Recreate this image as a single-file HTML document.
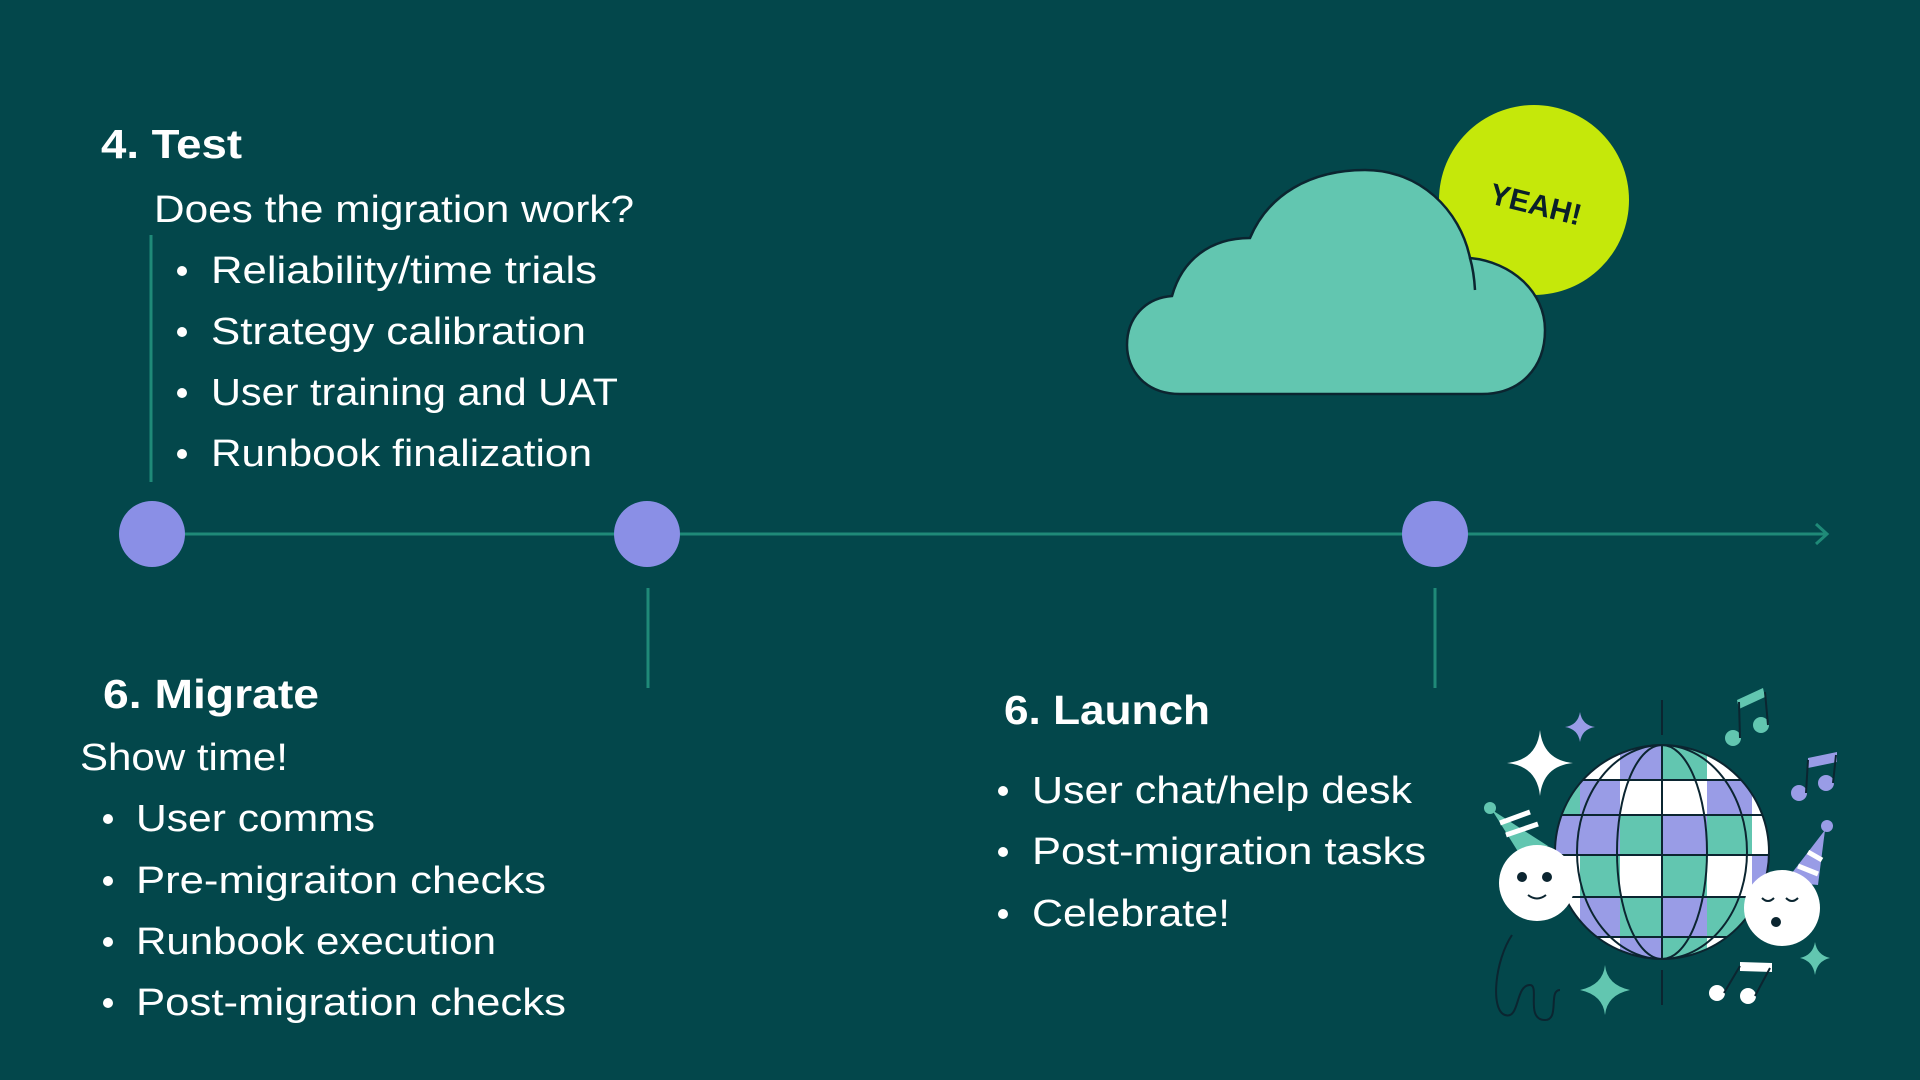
<!DOCTYPE html>
<html><head><meta charset="utf-8"><style>
html,body{margin:0;padding:0;background:#03474b;}
svg{display:block}
text{font-family:"Liberation Sans",sans-serif;fill:#fff}
</style></head><body>
<svg width="1920" height="1080" viewBox="0 0 1920 1080" xmlns="http://www.w3.org/2000/svg">
<rect width="1920" height="1080" fill="#03474b"/>
<!-- Test section -->
<text x="101" y="158" font-size="41" font-weight="bold" textLength="141" lengthAdjust="spacingAndGlyphs">4. Test</text>
<text x="154" y="222" font-size="38" textLength="480" lengthAdjust="spacingAndGlyphs">Does the migration work?</text>
<line x1="151" y1="235" x2="151" y2="482" stroke="#1f8a78" stroke-width="3"/>
<g font-size="38">
<circle cx="182" cy="271" r="5" fill="#fff"/><text x="211" y="283" textLength="386" lengthAdjust="spacingAndGlyphs">Reliability/time trials</text>
<circle cx="182" cy="332" r="5" fill="#fff"/><text x="211" y="344" textLength="375" lengthAdjust="spacingAndGlyphs">Strategy calibration</text>
<circle cx="182" cy="393" r="5" fill="#fff"/><text x="211" y="405" textLength="407" lengthAdjust="spacingAndGlyphs">User training and UAT</text>
<circle cx="182" cy="454" r="5" fill="#fff"/><text x="211" y="466" textLength="381" lengthAdjust="spacingAndGlyphs">Runbook finalization</text>
</g>
<!-- timeline -->
<line x1="152" y1="534" x2="1826" y2="534" stroke="#1f8a78" stroke-width="3"/>
<polyline points="1816,524 1827,534 1816,544" fill="none" stroke="#1f8a78" stroke-width="3"/>
<line x1="648" y1="588" x2="648" y2="688" stroke="#1f8a78" stroke-width="3"/>
<line x1="1435" y1="588" x2="1435" y2="688" stroke="#1f8a78" stroke-width="3"/>
<circle cx="152" cy="534" r="33" fill="#8a8fe6"/>
<circle cx="647" cy="534" r="33" fill="#8a8fe6"/>
<circle cx="1435" cy="534" r="33" fill="#8a8fe6"/>
<!-- Migrate -->
<text x="103" y="708" font-size="41" font-weight="bold" textLength="216" lengthAdjust="spacingAndGlyphs">6. Migrate</text>
<text x="80" y="770" font-size="38" textLength="208" lengthAdjust="spacingAndGlyphs">Show time!</text>
<g font-size="38">
<circle cx="108" cy="819" r="5" fill="#fff"/><text x="136" y="831" textLength="239" lengthAdjust="spacingAndGlyphs">User comms</text>
<circle cx="108" cy="881" r="5" fill="#fff"/><text x="136" y="893" textLength="410" lengthAdjust="spacingAndGlyphs">Pre-migraiton checks</text>
<circle cx="108" cy="942" r="5" fill="#fff"/><text x="136" y="954" textLength="360" lengthAdjust="spacingAndGlyphs">Runbook execution</text>
<circle cx="108" cy="1003" r="5" fill="#fff"/><text x="136" y="1015" textLength="430" lengthAdjust="spacingAndGlyphs">Post-migration checks</text>
</g>
<!-- Launch -->
<text x="1004" y="724" font-size="41" font-weight="bold" textLength="206" lengthAdjust="spacingAndGlyphs">6. Launch</text>
<g font-size="38">
<circle cx="1003" cy="791" r="5" fill="#fff"/><text x="1032" y="803" textLength="380" lengthAdjust="spacingAndGlyphs">User chat/help desk</text>
<circle cx="1003" cy="852" r="5" fill="#fff"/><text x="1032" y="864" textLength="394" lengthAdjust="spacingAndGlyphs">Post-migration tasks</text>
<circle cx="1003" cy="914" r="5" fill="#fff"/><text x="1032" y="926" textLength="198" lengthAdjust="spacingAndGlyphs">Celebrate!</text>
</g>
<!-- sun + cloud -->
<circle cx="1534" cy="200" r="95" fill="#c5e80a"/>
<text x="0" y="0" font-size="30" font-weight="bold" style="fill:#0a1f2a" transform="translate(1488,203) rotate(14)">YEAH!</text>
<path d="M1180,394 C1145,394 1127,370 1127,345 C1127,318 1145,298 1172,296 C1182,260 1210,238 1250,238 C1268,195 1310,170 1365,170 C1420,170 1460,210 1470,258 C1512,262 1545,292 1545,330 C1545,368 1520,394 1482,394 Z" fill="#62c6b0" stroke="#0b2530" stroke-width="2.5"/>
<path d="M1470,258 Q1474,272 1475,290" fill="none" stroke="#0b2530" stroke-width="2.5"/>
<!-- disco -->
<defs><clipPath id="ball"><circle cx="1662" cy="852" r="107"/></clipPath></defs>
<g clip-path="url(#ball)">
<rect x="1555" y="745" width="214" height="214" fill="#fff"/>
<g fill="#62c6b0">
<rect x="1662" y="745" width="45" height="35"/><rect x="1620" y="815" width="42" height="40"/><rect x="1707" y="815" width="45" height="40"/>
<rect x="1580" y="855" width="40" height="42"/><rect x="1662" y="855" width="45" height="42"/><rect x="1620" y="897" width="42" height="40"/><rect x="1707" y="897" width="60" height="40"/><rect x="1662" y="937" width="45" height="30"/><rect x="1555" y="780" width="30" height="35"/>
</g>
<g fill="#999ce6">
<rect x="1620" y="745" width="42" height="35"/><rect x="1707" y="780" width="45" height="35"/><rect x="1580" y="780" width="40" height="35"/><rect x="1662" y="815" width="45" height="40"/>
<rect x="1555" y="815" width="65" height="40"/><rect x="1752" y="855" width="30" height="42"/><rect x="1580" y="897" width="40" height="40"/><rect x="1662" y="897" width="45" height="40"/><rect x="1620" y="937" width="42" height="30"/>
</g>
<g fill="none" stroke="#0b2530" stroke-width="2">
<line x1="1555" y1="780" x2="1769" y2="780"/><line x1="1555" y1="815" x2="1769" y2="815"/><line x1="1555" y1="855" x2="1769" y2="855"/><line x1="1555" y1="897" x2="1769" y2="897"/><line x1="1555" y1="937" x2="1769" y2="937"/>
<line x1="1662" y1="745" x2="1662" y2="960"/>
<ellipse cx="1662" cy="852" rx="45" ry="107"/><ellipse cx="1662" cy="852" rx="85" ry="107"/>
</g>
</g>
<circle cx="1662" cy="852" r="107" fill="none" stroke="#0b2530" stroke-width="2"/>
<line x1="1662" y1="700" x2="1662" y2="735" stroke="#0b2530" stroke-width="2"/>
<line x1="1662" y1="970" x2="1662" y2="1005" stroke="#0b2530" stroke-width="2"/>
<!-- sparkles -->
<path d="M1540,730 Q1543,760 1573,763 Q1543,766 1540,796 Q1537,766 1507,763 Q1537,760 1540,730Z" fill="#fff"/>
<path d="M1580,712 Q1582,725 1595,727 Q1582,729 1580,742 Q1578,729 1565,727 Q1578,725 1580,712Z" fill="#999ce6"/>
<path d="M1605,965 Q1607,985 1630,990 Q1607,995 1605,1015 Q1603,995 1580,990 Q1603,985 1605,965Z" fill="#62c6b0"/>
<path d="M1815,942 Q1817,955 1830,958 Q1817,961 1815,975 Q1813,961 1800,958 Q1813,955 1815,942Z" fill="#62c6b0"/>
<!-- faces -->
<path d="M1492,810 L1522,858 L1548,846 Z" fill="#62c6b0"/>
<path d="M1500,823 L1530,812 M1506,835 L1538,824" stroke="#fff" stroke-width="5"/>
<circle cx="1490" cy="808" r="6" fill="#62c6b0"/>
<circle cx="1537" cy="883" r="38" fill="#fff"/>
<circle cx="1522" cy="877" r="5" fill="#0b2530"/><circle cx="1547" cy="877" r="5" fill="#0b2530"/>
<path d="M1528,895 Q1537,902 1546,895" fill="none" stroke="#0b2530" stroke-width="2"/>
<path d="M1825,830 L1785,882 L1818,885 Z" fill="#999ce6"/>
<path d="M1808,852 L1822,860 M1798,866 L1818,874" stroke="#fff" stroke-width="5"/>
<circle cx="1827" cy="826" r="6" fill="#999ce6"/>
<circle cx="1782" cy="908" r="38" fill="#fff"/>
<path d="M1762,898 Q1768,904 1774,898 M1786,898 Q1792,904 1798,898" fill="none" stroke="#0b2530" stroke-width="2"/>
<circle cx="1776" cy="922" r="5" fill="#0b2530"/>
<!-- notes -->
<g fill="#62c6b0"><circle cx="1733" cy="738" r="8"/><circle cx="1761" cy="725" r="8"/><path d="M1737,700 L1763,688 L1765,697 L1739,709Z"/></g>
<path d="M1740,738 L1739,702 M1768,725 L1765,692" stroke="#0b2530" stroke-width="2"/>
<g fill="#999ce6"><circle cx="1799" cy="793" r="8"/><circle cx="1826" cy="783" r="8"/><path d="M1808,758 L1837,752 L1837,762 L1808,768Z"/></g>
<path d="M1806,793 L1808,760 M1833,783 L1836,755" stroke="#0b2530" stroke-width="2"/>
<g fill="#fff"><circle cx="1717" cy="993" r="8"/><circle cx="1748" cy="996" r="8"/><path d="M1740,962 L1772,963 L1772,972 L1740,971Z"/></g>
<path d="M1724,993 L1740,966 M1755,996 L1770,968" stroke="#0b2530" stroke-width="2"/>
<path d="M1512,935 C1495,960 1490,1010 1505,1015 C1520,1020 1515,985 1530,985 C1540,985 1525,1020 1545,1020 C1560,1020 1548,990 1560,990" fill="none" stroke="#0b2530" stroke-width="2"/>
</svg>
</body></html>
